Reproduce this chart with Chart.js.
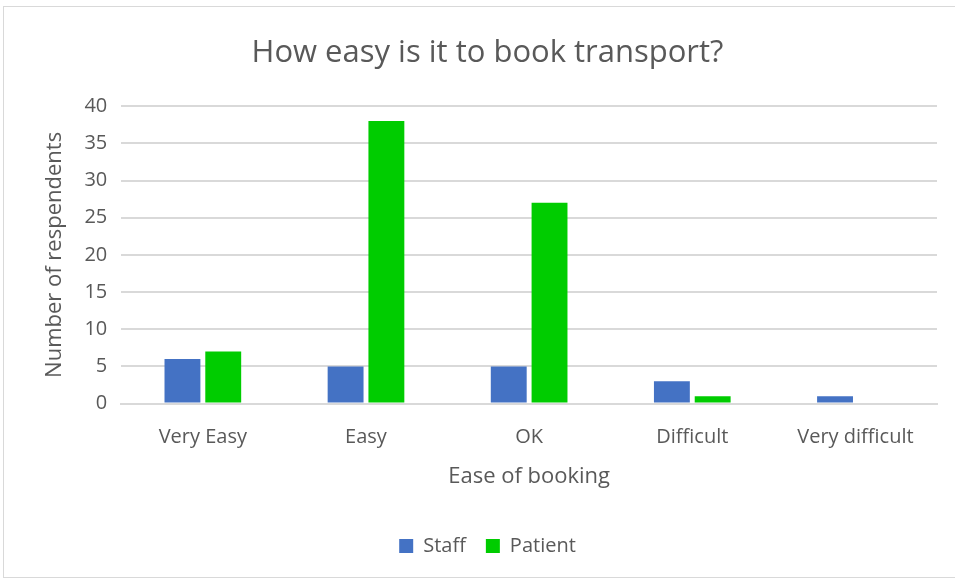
<!DOCTYPE html>
<html>
<head>
<meta charset="utf-8">
<script src="https://cdn.jsdelivr.net/npm/chart.js@4/dist/chart.umd.min.js"></script>
<style>
  html, body { margin: 0; padding: 0; background: #fff; }
  #wrap { position: absolute; left: 3px; top: 6px; width: 960px; height: 572px; border: 1px solid #d9d9d9; box-sizing: border-box; }
</style>
</head>
<body>
<div id="wrap"><canvas id="chart"></canvas></div>
<script>
var categories = ['Very Easy', 'Easy', 'OK', 'Difficult', 'Very difficult'];
var staffValues = [6, 5, 5, 3, 1];
var patientValues = [7, 38, 27, 1, 0];

var font = '"Open Sans", "Liberation Sans", sans-serif';

var ctx = document.getElementById('chart').getContext('2d');
window.myChart = new Chart(ctx, {
    type: 'bar',
    data: {
        labels: categories,
        datasets: [{
            label: 'Staff',
            data: staffValues,
            backgroundColor: '#4472c4'
        }, {
            label: 'Patient',
            data: patientValues,
            backgroundColor: '#00cc00'
        }]
    },
    options: {
        responsive: true,
        maintainAspectRatio: false,
        animation: false,
        categoryPercentage: 0.5,
        barPercentage: 0.88,
        layout: { padding: { left: 34, right: 25, top: 10, bottom: 11 } },
        plugins: {
            title: {
                display: true,
                text: 'How easy is it to book transport?',
                color: '#595959',
                font: { family: font, size: 31, weight: 'normal' },
                padding: { top: 18, bottom: 34 }
            },
            legend: {
                position: 'bottom',
                labels: {
                    color: '#595959',
                    font: { family: font, size: 20 },
                    boxWidth: 14,
                    boxHeight: 14,
                    padding: 20
                }
            },
            tooltip: { enabled: false }
        },
        scales: {
            x: {
                grid: { display: false },
                border: { color: '#d9d9d9', width: 2 },
                ticks: { color: '#595959', font: { family: font, size: 20 }, padding: 14 },
                title: {
                    display: true,
                    text: 'Ease of booking',
                    color: '#595959',
                    font: { family: font, size: 22 },
                    padding: { top: 0, bottom: 26 }
                }
            },
            y: {
                min: 0,
                max: 40,
                ticks: { stepSize: 5, color: '#595959', font: { family: font, size: 20 }, padding: 14 },
                grid: { color: '#d9d9d9', lineWidth: 2, drawTicks: false },
                border: { display: false },
                title: {
                    display: true,
                    text: 'Number of respendents',
                    color: '#595959',
                    font: { family: font, size: 22 },
                    padding: { bottom: 2 }
                }
            }
        }
    }
});
</script>
</body>
</html>
